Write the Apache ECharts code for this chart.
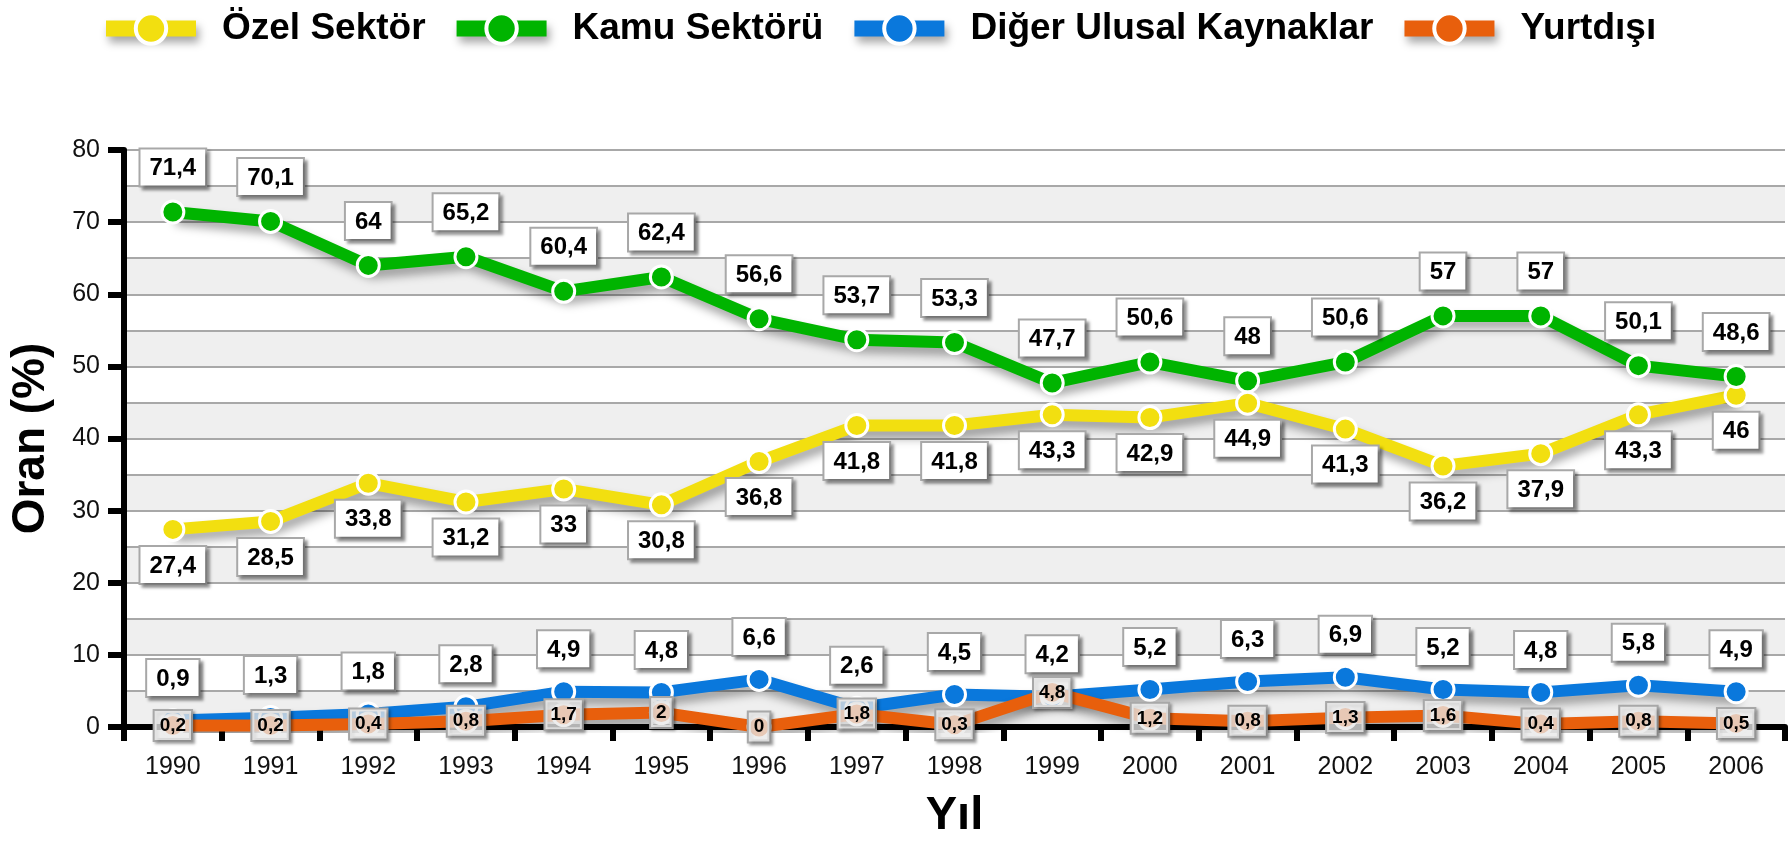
<!DOCTYPE html>
<html lang="tr">

<head>
	<meta charset="UTF-8">
	<script src="https://cdn.jsdelivr.net/npm/echarts@6.0.0/dist/echarts.min.js"></script>
	<title>Ar-Ge harcamalarının kaynaklara göre dağılımı</title>
	<style>
		html, body { margin: 0; padding: 0; background: #fff; }
	</style>
</head>

<body>
	<div id="main" style="width: 1791px;height:846px;"></div>

	<script>
		// yıllar ve seriler (%)
		var years = ['1990', '1991', '1992', '1993', '1994', '1995', '1996', '1997', '1998', '1999', '2000', '2001', '2002', '2003', '2004', '2005', '2006'];
		var ozelSektor = [27.4, 28.5, 33.8, 31.2, 33, 30.8, 36.8, 41.8, 41.8, 43.3, 42.9, 44.9, 41.3, 36.2, 37.9, 43.3, 46];
		var kamuSektoru = [71.4, 70.1, 64, 65.2, 60.4, 62.4, 56.6, 53.7, 53.3, 47.7, 50.6, 48, 50.6, 57, 57, 50.1, 48.6];
		var digerUlusal = [0.9, 1.3, 1.8, 2.8, 4.9, 4.8, 6.6, 2.6, 4.5, 4.2, 5.2, 6.3, 6.9, 5.2, 4.8, 5.8, 4.9];
		var yurtdisi = [0.2, 0.2, 0.4, 0.8, 1.7, 2, 0, 1.8, 0.3, 4.8, 1.2, 0.8, 1.3, 1.6, 0.4, 0.8, 0.5];

		var font = '"Liberation Sans", Arial, sans-serif';

		function comma(p) {
			return String(p.value).replace('.', ',');
		}

		function boxLabel(position, distance) {
			return {
				show: true,
				position: position,
				distance: distance,
				formatter: comma,
				fontFamily: font,
				fontWeight: 'bold',
				fontSize: 24,
				color: '#000',
				backgroundColor: '#fff',
				borderColor: '#a8a8a8',
				borderWidth: 2,
				padding: [7, 9, 5, 9],
				shadowColor: 'rgba(0,0,0,0.35)',
				shadowBlur: 3,
				shadowOffsetX: 3,
				shadowOffsetY: 3
			};
		}

		function lineSeries(name, data, color, label) {
			return {
				name: name,
				type: 'line',
				data: data,
				symbol: 'circle',
				symbolSize: 22,
				lineStyle: {
					color: color,
					width: 12,
					shadowColor: 'rgba(0,0,0,0.35)',
					shadowBlur: 10,
					shadowOffsetX: 3,
					shadowOffsetY: 7
				},
				itemStyle: {
					color: color,
					borderColor: '#fff',
					borderWidth: 3
				},
				label: label
			};
		}

		var chart = echarts.init(document.getElementById('main'));

		var yurtdisiLabel = boxLabel('inside', 0);
		yurtdisiLabel.fontSize = 19;
		yurtdisiLabel.backgroundColor = 'rgba(255,255,255,0.7)';
		yurtdisiLabel.padding = [6, 5, 4, 5];
		yurtdisiLabel.shadowOffsetX = 2;
		yurtdisiLabel.shadowOffsetY = 2;

		chart.setOption({
			animation: false,
			legend: {
				left: 93,
				top: 5,
				width: 1690,
				itemWidth: 90,
				itemHeight: 38,
				itemGap: 23,
				textStyle: {
					fontFamily: font,
					fontWeight: 'bold',
					fontSize: 37,
					color: '#000',
					padding: [0, 0, 0, 21]
				},
				lineStyle: {
					width: 16,
					shadowColor: 'rgba(0,0,0,0.35)',
					shadowBlur: 8,
					shadowOffsetX: 3,
					shadowOffsetY: 6
				},
				itemStyle: {
					borderColor: '#fff',
					borderWidth: 4
				}
			},
			grid: {
				left: 122,
				right: 6,
				top: 150,
				bottom: 119
			},
			xAxis: {
				type: 'category',
				data: years,
				boundaryGap: true,
				name: 'Yıl',
				nameLocation: 'middle',
				nameGap: 66,
				nameTextStyle: { fontFamily: font, fontWeight: 'bold', fontSize: 47, color: '#000' },
				axisLine: { lineStyle: { color: '#000', width: 6 } },
				axisTick: { show: true, length: 14, lineStyle: { color: '#000', width: 6 } },
				axisLabel: { fontFamily: font, fontSize: 25, color: '#111', margin: 28 }
			},
			yAxis: [
				{
					type: 'value',
					min: 0,
					max: 80,
					interval: 10,
					name: 'Oran (%)',
					nameLocation: 'middle',
					nameGap: 70,
					nameTextStyle: { fontFamily: font, fontWeight: 'bold', fontSize: 46, color: '#000' },
					axisLine: { show: true, lineStyle: { color: '#000', width: 6 } },
					axisTick: { show: true, length: 16, lineStyle: { color: '#000', width: 6 } },
					axisLabel: { fontFamily: font, fontSize: 25, color: '#111', margin: 24 },
					splitLine: { show: false }
				},
				{
					// yalnızca ara çizgiler ve bantlar için
					type: 'value',
					min: 0,
					max: 80,
					interval: 5,
					position: 'left',
					axisLine: { show: false },
					axisTick: { show: false },
					axisLabel: { show: false },
					splitLine: { show: true, lineStyle: { color: '#a8a8a8', width: 2 } },
					splitArea: { show: true, areaStyle: { color: ['#efefef', '#ffffff'] } }
				}
			],
			series: [
				lineSeries('Özel Sektör', ozelSektor, '#f2df10', boxLabel('bottom', 5)),
				lineSeries('Kamu Sektörü', kamuSektoru, '#00b400', boxLabel('top', 14)),
				lineSeries('Diğer Ulusal Kaynaklar', digerUlusal, '#0a78dc', boxLabel('top', 12)),
				lineSeries('Yurtdışı', yurtdisi, '#e85f0c', yurtdisiLabel)
			]
		});
	</script>
</body>

</html>
